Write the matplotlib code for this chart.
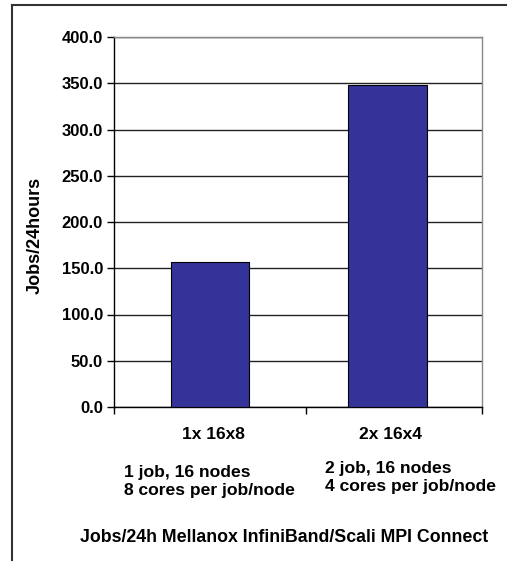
import numpy as np
import matplotlib.pyplot as plt
from matplotlib.lines import Line2D

categories = ["1x 16x8", "2x 16x4"]
jobs_per_day = [157.0, 348.0]
details = ["1 job, 16 nodes\n8 cores per job/node",
           "2 job, 16 nodes\n4 cores per job/node"]
yticks = np.arange(0, 401, 50)

plt.rcParams['font.family'] = ['Liberation Sans', 'DejaVu Sans']
plt.rcParams['font.weight'] = 'bold'

W, H = 507, 561
fig = plt.figure(figsize=(W / 100, H / 100), dpi=100)
ax = fig.add_axes([114 / W, (H - 407) / H, (482 - 114) / W, (407 - 37) / H])

x = np.arange(len(categories))
ax.bar(x, jobs_per_day, width=0.443, color='#333399', edgecolor='black', linewidth=0.8, zorder=3)

ax.set_ylim(0, 400)
ax.set_xlim(-0.544, 1.535)
ax.set_yticks(yticks)
ax.set_yticklabels([f"{v:.1f}" for v in yticks], fontsize=12, fontweight='bold')
ax.tick_params(axis='y', direction='out', length=5, width=1, pad=3)
ax.set_xticks([-0.544, 0.54, 1.535])
ax.set_xticklabels([])
ax.tick_params(axis='x', direction='out', length=5, width=1)
ax.yaxis.grid(True, color='#222222', linewidth=1.0, zorder=0)

ax.spines['left'].set_color('black')
ax.spines['bottom'].set_color('black')
ax.spines['top'].set_color('#888888')
ax.spines['right'].set_color('#888888')
for s in ax.spines.values():
    s.set_linewidth(1.0)

ax.set_ylabel("Jobs/24hours", fontsize=13, fontweight='bold')
ax.yaxis.set_label_coords(-0.19, 0.465)

# category names under each bar
for xi, name in zip(x, categories):
    ax.text(xi + 0.02, -0.075, name, transform=ax.get_xaxis_transform(),
            ha='center', va='center', fontsize=12.5, fontweight='bold')

# run configuration notes
fig.text(124 / W, 1 - 481 / H, details[0], ha='left', va='center',
         fontsize=12.6, fontweight='bold', linespacing=1.25)
fig.text(325 / W, 1 - 478 / H, details[1], ha='left', va='center',
         fontsize=12.6, fontweight='bold', linespacing=1.25)

fig.text(284.5 / W, 1 - 537 / H, "Jobs/24h Mellanox InfiniBand/Scali MPI Connect",
         ha='center', va='center', fontsize=12.8, fontweight='bold')

# outer chart frame
fig.add_artist(Line2D([12 / W, 12 / W], [0, 1 - 4.7 / H], color='#333333', linewidth=1.5))
fig.add_artist(Line2D([12 / W, 1], [1 - 4.7 / H, 1 - 4.7 / H], color='#333333', linewidth=1.5))

fig.savefig("out.png", dpi=100)
